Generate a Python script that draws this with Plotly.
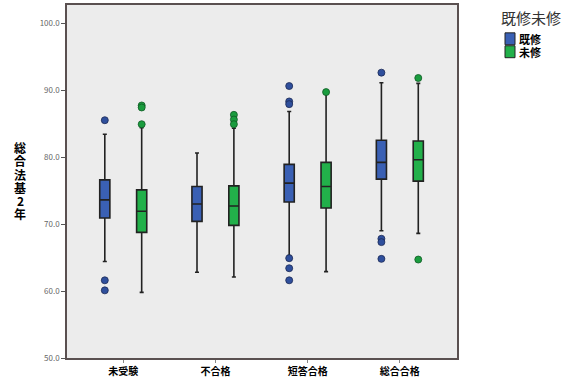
import plotly.graph_objects as go

# ---- data ----
categories = ["未受験", "不合格", "短答合格", "総合合格"]
series_names = ["既修", "未修"]
legend_title = "既修未修"
y_title = "総合法基2年"

kishu_q1 = [70.9, 70.4, 73.3, 76.7]
kishu_median = [73.6, 73.0, 76.1, 79.2]
kishu_q3 = [76.6, 75.6, 78.9, 82.5]
kishu_lower = [64.4, 62.8, 65.3, 69.0]
kishu_upper = [83.4, 80.6, 86.8, 91.1]
kishu_outliers = [[85.5, 61.6, 60.1], [], [90.6, 88.3, 87.9, 64.9, 63.4, 61.6], [92.6, 67.8, 67.3, 64.8]]

mishu_q1 = [68.75, 69.8, 72.4, 76.4]
mishu_median = [71.9, 72.7, 75.6, 79.6]
mishu_q3 = [75.1, 75.7, 79.2, 82.4]
mishu_lower = [59.8, 62.1, 62.9, 68.6]
mishu_upper = [84.4, 84.3, 89.4, 91.0]
mishu_outliers = [[87.7, 87.4, 84.9], [86.3, 85.6, 84.9], [89.7], [91.8, 64.7]]

y_ticks = [50, 60, 70, 80, 90, 100]

# ---- style ----
FONT = "Noto Sans CJK JP"
blue_fill = "#3a60b4"
blue_dot = "#2f4f9c"
green_fill = "#22b04a"
green_dot = "#1a9c3e"
offset = 0.2
box_w = 0.11

groups = [
    (series_names[0], kishu_q1, kishu_median, kishu_q3, kishu_lower, kishu_upper, kishu_outliers, -offset, blue_fill, blue_dot, "#1c2a55"),
    (series_names[1], mishu_q1, mishu_median, mishu_q3, mishu_lower, mishu_upper, mishu_outliers, offset, green_fill, green_dot, "#0f5a24"),
]

fig = go.Figure()
for name, q1, med, q3, lo, up, outs, off, fill, dot, dotline in groups:
    xs = [i + off for i in range(len(categories))]
    fig.add_trace(go.Box(
        x=xs, q1=q1, median=med, q3=q3, lowerfence=lo, upperfence=up,
        width=box_w, whiskerwidth=0.4, fillcolor=fill,
        line=dict(color="#222222", width=1.6),
        boxpoints=False, name=name, showlegend=False, hoverinfo="skip",
    ))
    ox, oy = [], []
    for i, vals in enumerate(outs):
        for v in vals:
            ox.append(i + off)
            oy.append(v)
    fig.add_trace(go.Scatter(
        x=ox, y=oy, mode="markers", showlegend=False, hoverinfo="skip",
        marker=dict(size=7, color=dot, line=dict(color=dotline, width=0.8)),
    ))

fig.update_layout(
    width=575, height=383,
    margin=dict(l=67, r=118, t=3, b=25),
    paper_bgcolor="white",
    plot_bgcolor="#ececec",
    font=dict(family=FONT),
    showlegend=False,
)
fig.update_xaxes(
    range=[-0.61, 3.62],
    tickmode="array", tickvals=list(range(len(categories))), ticktext=categories,
    tickfont=dict(size=10, color="black", family=FONT, weight="bold"),
    showgrid=False, zeroline=False,
    showline=True, linecolor="#5a5050", linewidth=1.5, mirror=True,
    ticks="outside", ticklen=3, tickcolor="#888",
)
fig.update_yaxes(
    range=[50, 102.7],
    tickmode="array", tickvals=y_ticks, tickformat=".1f",
    tickfont=dict(size=8, color="#666", family=FONT),
    showgrid=False, zeroline=False,
    showline=True, linecolor="#5a5050", linewidth=1.5, mirror=True,
    ticks="outside", ticklen=4, tickcolor="#555",
)

# y-axis title (vertical stacked characters)
PLOT_TOP, PLOT_H = 3, 355
for k, ch in enumerate(y_title):
    yc = 146.5 + k * 13.3
    fig.add_annotation(
        xref="paper", yref="paper", x=(20 - 67) / 390, y=1 - (yc - PLOT_TOP) / PLOT_H,
        xanchor="center", yanchor="middle",
        text=ch, showarrow=False,
        font=dict(size=12, color="black", family=FONT, weight="bold"),
    )

# legend
fig.add_annotation(
    xref="paper", yref="paper", x=(531 - 67) / 390, y=1 - (16 - PLOT_TOP) / PLOT_H,
    xanchor="center", yanchor="middle",
    text=legend_title, showarrow=False,
    font=dict(size=15, color="#333", family=FONT),
)
legend_colors = [blue_fill, green_fill]
for k, (nm, col) in enumerate(zip(series_names, legend_colors)):
    y_top = 31 + k * 13
    y0 = 1 - (y_top + 12 - PLOT_TOP) / PLOT_H
    y1 = 1 - (y_top - PLOT_TOP) / PLOT_H
    fig.add_shape(type="rect", xref="paper", yref="paper",
                  x0=(505 - 67) / 390, x1=(515 - 67) / 390, y0=y0, y1=y1,
                  fillcolor=col, line=dict(color="#222", width=1))
    fig.add_annotation(
        xref="paper", yref="paper", x=(517 - 67) / 390, y=(y0 + y1) / 2,
        xanchor="left", yanchor="middle", text=nm, showarrow=False,
        font=dict(size=11, color="black", family=FONT, weight="bold"),
    )

fig.write_html(
    "out.html",
    config={"displayModeBar": False},
    post_script="document.body.style.margin='0';document.body.style.overflow='hidden';",
)
